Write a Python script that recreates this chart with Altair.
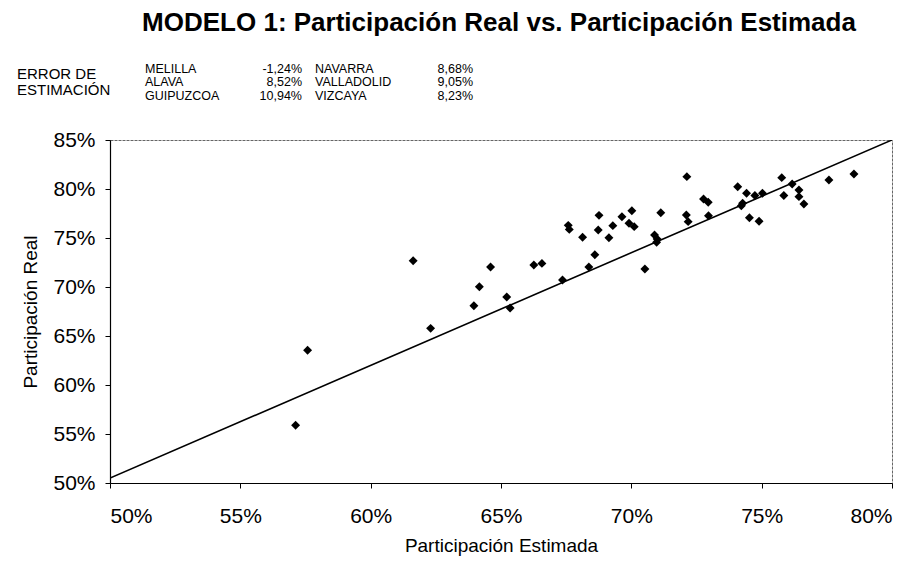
import altair as alt
import pandas as pd

# Estimated vs. real participation by province (percent)
estimada = [57.12, 57.58, 61.63, 62.30, 63.96, 64.17, 64.60, 65.22, 65.35, 66.26,
            66.57, 67.36, 67.58, 67.62, 68.13, 68.37, 68.60, 68.76, 68.73, 69.14,
            69.29, 69.64, 70.02, 69.91, 70.11, 70.52, 70.89, 70.99, 70.97, 71.13,
            72.13, 72.11, 72.18, 72.77, 72.95, 72.96, 74.08, 74.27, 74.22, 74.42,
            74.53, 74.74, 75.03, 74.90, 75.77, 75.85, 76.17, 76.43, 76.43, 76.62,
            77.58, 78.54]
real = [55.89, 63.54, 72.68, 65.78, 68.09, 70.03, 72.04, 68.98, 67.85, 72.24,
        72.41, 70.71, 76.29, 75.88, 75.07, 72.04, 73.30, 77.31, 75.82, 75.03,
        76.26, 77.17, 77.79, 76.50, 76.16, 71.84, 75.31, 74.90, 74.56, 77.58,
        81.26, 77.35, 76.67, 78.98, 78.64, 77.28, 80.23, 78.54, 78.30, 79.56,
        77.07, 79.33, 79.56, 76.70, 81.16, 79.33, 80.51, 79.90, 79.22, 78.47,
        80.92, 81.53]

# Fitted line end points (percent)
linea_est = [50.0, 80.0]
linea_real = [50.5, 85.0]

# Estimation error table
error_prov_1 = ["MELILLA", "ALAVA", "GUIPUZCOA"]
error_val_1 = [-1.24, 8.52, 10.94]
error_prov_2 = ["NAVARRA", "VALLADOLID", "VIZCAYA"]
error_val_2 = [8.68, 9.05, 8.23]

x_ticks = [0.50, 0.55, 0.60, 0.65, 0.70, 0.75, 0.80]
y_ticks = [0.50, 0.55, 0.60, 0.65, 0.70, 0.75, 0.80, 0.85]

TITLE = "MODELO 1: Participación Real vs. Participación Estimada"
FONT = "Liberation Sans"


def pct_es(v):
    return f"{v:.2f}".replace(".", ",") + "%"


puntos = pd.DataFrame({"est": [v / 100 for v in estimada],
                       "real": [v / 100 for v in real]})
linea = pd.DataFrame({"est": [v / 100 for v in linea_est],
                      "real": [v / 100 for v in linea_real]})

x_enc = alt.X("est:Q",
              scale=alt.Scale(domain=[0.5, 0.8], nice=False, zero=False),
              axis=alt.Axis(values=x_ticks, format=".0%", title="Participación Estimada",
                            grid=False, tickSize=5, labelPadding=17, titlePadding=10))
y_enc = alt.Y("real:Q",
              scale=alt.Scale(domain=[0.5, 0.85], nice=False, zero=False),
              axis=alt.Axis(values=y_ticks, format=".0%", title="Participación Real",
                            grid=False, tickSize=5, labelPadding=10, titlePadding=12))

scatter = alt.Chart(puntos).mark_point(
    shape="diamond", filled=True, color="black", size=80, opacity=1
).encode(x=x_enc, y=y_enc)

fit = alt.Chart(linea).mark_line(color="black", strokeWidth=1.6, clip=True).encode(
    x="est:Q", y="real:Q"
)

header_src = alt.Chart(pd.DataFrame({"k": [0]}))

title_text = header_src.mark_text(
    font=FONT, fontSize=26, fontWeight="bold", align="center", baseline="middle",
    color="black"
).encode(x=alt.value(389), y=alt.value(-117), text=alt.value(TITLE))

error_label = header_src.mark_text(
    font=FONT, fontSize=15, align="left", baseline="middle", lineHeight=16, color="black"
).encode(x=alt.value(-93), y=alt.value(-66), text=alt.value(["ERROR DE", "ESTIMACIÓN"]))

col_style = dict(font=FONT, fontSize=12.5, baseline="middle", lineHeight=13.5, color="black")
col1 = header_src.mark_text(align="left", **col_style).encode(
    x=alt.value(35), y=alt.value(-71.5), text=alt.value(error_prov_1))
col2 = header_src.mark_text(align="right", **col_style).encode(
    x=alt.value(192), y=alt.value(-71.5), text=alt.value([pct_es(v) for v in error_val_1]))
col3 = header_src.mark_text(align="left", **col_style).encode(
    x=alt.value(205), y=alt.value(-71.5), text=alt.value(error_prov_2))
col4 = header_src.mark_text(align="right", **col_style).encode(
    x=alt.value(363), y=alt.value(-71.5), text=alt.value([pct_es(v) for v in error_val_2]))

chart = alt.layer(fit, scatter, title_text, error_label, col1, col2, col3, col4).properties(
    width=782,
    height=343,
    autosize=alt.AutoSizeParams(type="none"),
    padding={"left": 110, "top": 140, "right": 25, "bottom": 82},
).configure_view(
    stroke="#666", strokeWidth=1, strokeDash=[3, 1]
).configure_axis(
    labelFont=FONT, labelFontSize=21, labelColor="black",
    titleFont=FONT, titleFontSize=19, titleFontWeight="normal", titleColor="black",
    domainColor="black", tickColor="black", domainWidth=1.2,
)

chart.save("out.html", embed_options={"renderer": "svg", "actions": False})
